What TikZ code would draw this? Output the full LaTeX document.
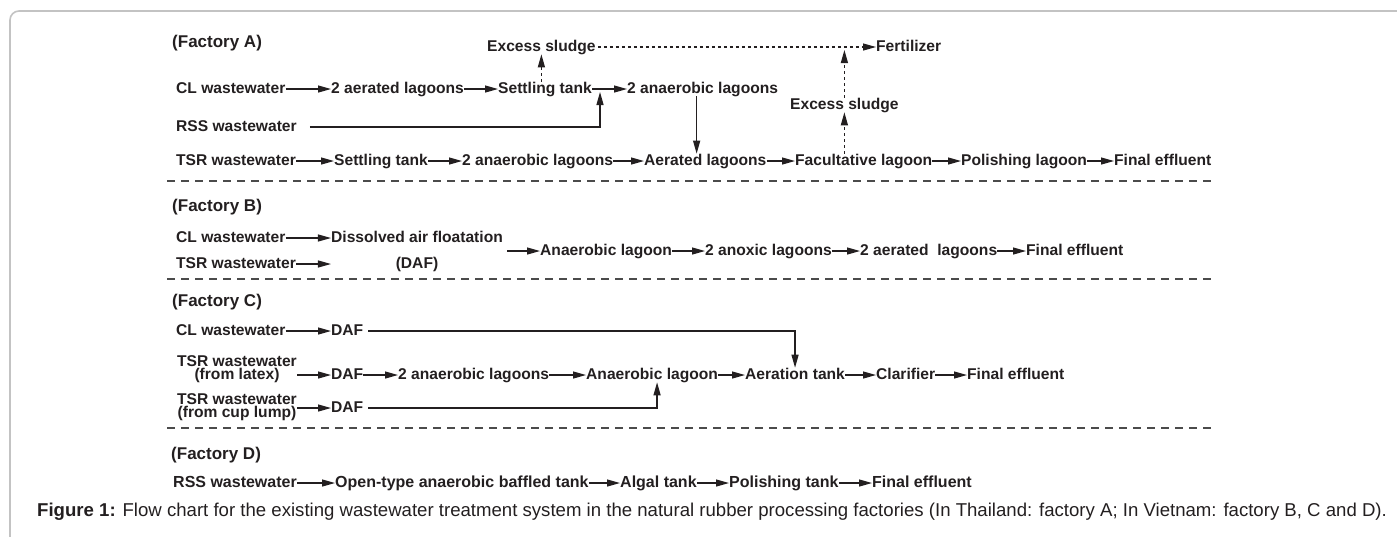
\documentclass[tikz,border=0pt]{standalone}
\usepackage{fontspec}
\setmainfont{Liberation Sans}
\usepackage{xcolor}
\definecolor{inkblk}{RGB}{35,31,32}
\definecolor{framegray}{RGB}{195,195,195}
\definecolor{sepgray}{RGB}{75,75,75}
\usetikzlibrary{arrows.meta}

\begin{document}
\begin{tikzpicture}[x=1pt, y=-1pt,
  txt/.style={font=\fontsize{15.6}{18}\selectfont\bfseries, text=inkblk, inner sep=0pt,
    text height=11.2pt, text depth=3pt, anchor=west},
  twoline/.style={font=\fontsize{15.6}{13}\selectfont\bfseries, text=inkblk, inner sep=0pt, align=center},
  factory/.style={font=\fontsize{17}{20}\selectfont\bfseries, text=inkblk, inner sep=0pt, anchor=west},
  rowd/.style={txt, font=\fontsize{16}{19}\selectfont\bfseries},
  arr/.style={-{Triangle[length=13pt,width=7pt]}, line width=1.2pt, draw=inkblk},
  sludge/.style={arr, dash pattern=on 3pt off 3pt},
  sep/.style={draw=sepgray, line width=1.2pt, dash pattern=on 8pt off 6pt}]
  \useasboundingbox (0,0) rectangle (1397,536);
  % Figure frame
  \draw[framegray, line width=1.6pt, rounded corners=9pt] (10,560) -- (10,11) -- (1420,11);

  % --- Factory A ---
  \node[factory] (facA) at (172,43) {(Factory A)};
  \node[txt] (exsA) at (487,47) {Excess sludge};
  \node[txt] (fert) at (876,47) {Fertilizer};
  \node[txt] (clA) at (176,89) {CL wastewater};
  \node[txt] (aerA) at (331,89) {2 aerated lagoons};
  \node[txt] (setA) at (498,89) {Settling tank};
  \node[txt] (anaA) at (627,89) {2 anaerobic lagoons};
  \node[txt] (exsA2) at (790,105) {Excess sludge};
  \node[txt] (rssA) at (176,127) {RSS wastewater};
  \node[txt] (tsrA) at (176,161) {TSR wastewater};
  \node[txt] (setA2) at (334,161) {Settling tank};
  \node[txt] (anaA2) at (462,161) {2 anaerobic lagoons};
  \node[txt] (aerA2) at (644,161) {Aerated lagoons};
  \node[txt] (facA2) at (795,161) {Facultative lagoon};
  \node[txt] (polA) at (961,161) {Polishing lagoon};
  \node[txt] (finA) at (1114,161) {Final effluent};
  % CL line
  \draw[arr] (clA.east) -- (aerA.west);
  \draw[arr] (aerA.east) -- (setA.west);
  \draw[arr] (setA.east) -- (anaA.west);
  % RSS joins after the settling tank
  \coordinate (jA) at ([xshift=8pt]setA.east);
  \draw[arr] ([xshift=13pt]rssA.east) -| ([yshift=-3pt]jA);
  \coordinate (dA) at ([xshift=-6pt]anaA.south);
  \draw[arr] (dA) -- (dA |- aerA2.north);
  % TSR line
  \draw[arr] (tsrA.east) -- (setA2.west);
  \draw[arr] (setA2.east) -- (anaA2.west);
  \draw[arr] (anaA2.east) -- (aerA2.west);
  \draw[arr] (aerA2.east) -- (facA2.west);
  \draw[arr] (facA2.east) -- (polA.west);
  \draw[arr] (polA.east) -- (finA.west);
  % Sludge to fertilizer
  \draw[sludge] (exsA.south |- setA.north) -- (exsA.south);
  \draw[sludge, shorten <=2pt] (exsA.east) -- (fert.west);
  \draw[sludge] (exsA2.south |- facA2.north) -- (exsA2.south);
  \coordinate (fjA) at (exsA2.north |- fert.west);
  \draw[sludge] (exsA2.north) -- ([yshift=-3pt]fjA);
  \draw[sep] (167,181) -- (1215,181);

  % --- Factory B ---
  \node[factory] (facB) at (172,207) {(Factory B)};
  \node[txt] (clB) at (176,238) {CL wastewater};
  \node[txt] (tsrB) at (176,264) {TSR wastewater};
  \node[twoline, font=\fontsize{15.6}{26}\selectfont\bfseries] (dafB) at (417,251) {Dissolved air floatation\\(DAF)};
  \node[txt] (anaB) at (540,251) {Anaerobic lagoon};
  \node[txt] (anxB) at (705,251) {2 anoxic lagoons};
  \node[txt] (aerB) at (860,251) {2 aerated\ \ lagoons};
  \node[txt] (finB) at (1026,251) {Final effluent};
  \draw[arr] (clB.east) -- (dafB.west |- clB.east);
  \draw[arr] (tsrB.east) -- (dafB.west |- tsrB.east);
  \draw[arr] ([xshift=4pt]dafB.east) -- (anaB.west);
  \draw[arr] (anaB.east) -- (anxB.west);
  \draw[arr] (anxB.east) -- (aerB.west);
  \draw[arr] (aerB.east) -- (finB.west);
  \draw[sep] (167,279) -- (1215,279);

  % --- Factory C ---
  \node[factory] (facC) at (172,302) {(Factory C)};
  \node[txt] (clC) at (176,331) {CL wastewater};
  \node[txt] (dafC1) at (331,331) {DAF};
  \node[twoline] (tsrC2) at (237,369) {TSR wastewater\\(from latex)};
  \node[txt] (dafC2) at (331,375) {DAF};
  \node[txt] (anaC) at (398,375) {2 anaerobic lagoons};
  \node[txt] (anaC2) at (586,375) {Anaerobic lagoon};
  \node[txt] (aerC) at (745,375) {Aeration tank};
  \node[txt] (claC) at (876,375) {Clarifier};
  \node[txt] (finC) at (967,375) {Final effluent};
  \node[twoline] (tsrC3) at (237,407) {TSR wastewater\\(from cup lump)};
  \node[txt] (dafC3) at (331,408) {DAF};
  \draw[arr] (clC.east) -- (dafC1.west);
  \draw[arr] (tsrC2.east |- dafC2.west) -- (dafC2.west);
  \draw[arr] (dafC2.east) -- (anaC.west);
  \draw[arr] (anaC.east) -- (anaC2.west);
  \draw[arr] (anaC2.east) -- (aerC.west);
  \draw[arr] (aerC.east) -- (claC.west);
  \draw[arr] (claC.east) -- (finC.west);
  \draw[arr] (tsrC3.east |- dafC3.west) -- (dafC3.west);
  \draw[arr] ([xshift=5pt]dafC1.east) -| (aerC.north);
  \draw[arr] ([xshift=5pt]dafC3.east) -| ([xshift=5pt]anaC2.south);
  \draw[sep] (167,428) -- (1215,428);

  % --- Factory D ---
  \node[factory] (facD) at (171,455) {(Factory D)};
  \node[rowd] (rssD) at (173,483) {RSS wastewater};
  \node[rowd] (otD) at (335,483) {Open-type anaerobic baffled tank};
  \node[rowd] (algD) at (620,483) {Algal tank};
  \node[rowd] (polD) at (729,483) {Polishing tank};
  \node[rowd] (finD) at (872,483) {Final effluent};
  \draw[arr] (rssD.east) -- (otD.west);
  \draw[arr] (otD.east) -- (algD.west);
  \draw[arr] (algD.east) -- (polD.west);
  \draw[arr] (polD.east) -- (finD.west);

  % Caption
  \node[font=\fontsize{18.6}{22}\selectfont, text=inkblk, inner sep=0pt, anchor=west] (cap) at (37,512)
    {\textbf{Figure 1:} Flow chart for the existing wastewater treatment system in the natural rubber processing factories (In Thailand: factory A; In Vietnam: factory B, C and D).};
\end{tikzpicture}
\end{document}
